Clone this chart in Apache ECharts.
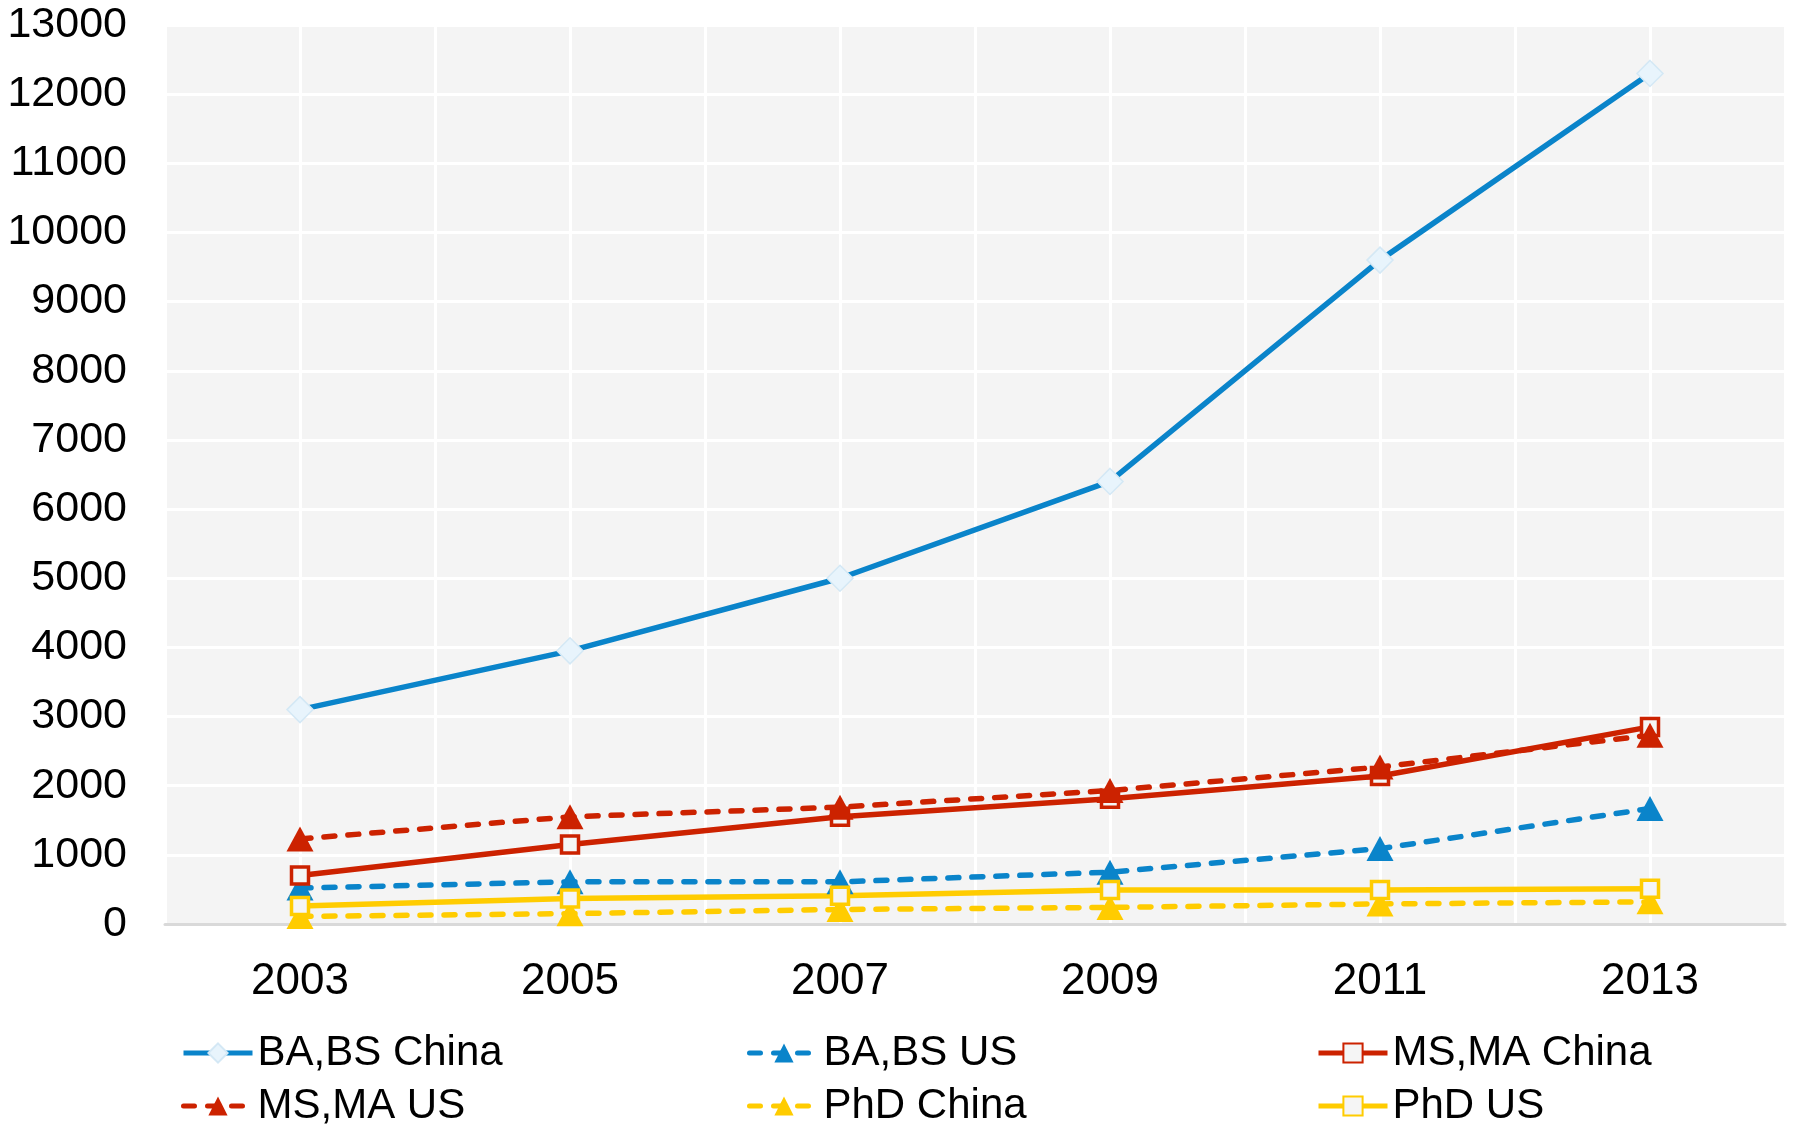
<!DOCTYPE html>
<html>
<head>
<meta charset="utf-8">
<script src="https://cdn.jsdelivr.net/npm/echarts@6/dist/echarts.min.js"></script>
<style>html,body{margin:0;padding:0;background:#fff}#c{width:1794px;height:1132px}</style>
</head>
<body>
<div id="c"></div>
<script>
var years = [2003, 2005, 2007, 2009, 2011, 2013];
var baChina = [3100, 3950, 5000, 6400, 9600, 12300];
var baUS = [520, 610, 610, 750, 1090, 1670];
var msChina = [700, 1150, 1550, 1810, 2140, 2850];
var msUS = [1230, 1550, 1690, 1930, 2270, 2730];
var phdChina = [110, 150, 210, 240, 290, 320];
var phdUS = [260, 370, 410, 490, 490, 510];

var BLUE = '#0A84CA', RED = '#CC2200', YEL = '#FFCC00';
var FONT = "'Liberation Sans', Arial, sans-serif";
function pairs(v){ return years.map(function(y,i){ return [y, v[i]]; }); }
var dash = [11, 13];

var chart = echarts.init(document.getElementById('c'));
function legend(left, names){
  return {
    orient: 'vertical', top: 1029, left: left, padding: 0, data: names,
    itemWidth: 69, itemHeight: 24, itemGap: 5,
    lineStyle: { width: 5 },
    textStyle: { fontSize: 42, fontFamily: FONT, color: '#000', lineHeight: 48 }
  };
}
chart.setOption({
  animation: false,
  grid: { left: 165, right: 9, top: 25, bottom: 208, show: true, backgroundColor: '#f4f4f4', borderWidth: 0 },
  legend: [
    legend(181, ['BA,BS China', 'MS,MA US']),
    legend(747, ['BA,BS US', 'PhD China']),
    legend(1316, ['MS,MA China', 'PhD US'])
  ],
  xAxis: {
    type: 'value', min: 2002, max: 2014, interval: 1,
    axisLine: { show: true, lineStyle: { color: '#d9d9d9', width: 3 } },
    axisTick: { show: false },
    splitLine: { show: true, lineStyle: { color: '#ffffff', width: 3 } },
    axisLabel: { fontSize: 44, fontFamily: FONT, color: '#000', margin: 36,
      formatter: function(v){ return years.indexOf(v) >= 0 ? String(v) : ''; } }
  },
  yAxis: {
    type: 'value', min: 0, max: 13000, interval: 1000,
    axisLine: { show: false }, axisTick: { show: false },
    splitLine: { show: true, lineStyle: { color: '#ffffff', width: 3 } },
    axisLabel: { fontSize: 43, fontFamily: FONT, color: '#000', margin: 38,
      formatter: function(v){ return String(v); } }
  },
  series: [
    { name: 'BA,BS China', type: 'line', data: pairs(baChina), symbol: 'diamond', symbolSize: 26,
      lineStyle: { color: BLUE, width: 5.5 },
      itemStyle: { color: '#e8f4fc', borderColor: '#d4e8f5', borderWidth: 1.5 } },
    { name: 'BA,BS US', type: 'line', data: pairs(baUS), symbol: 'triangle', symbolSize: [27, 25],
      lineStyle: { color: BLUE, width: 5.5, type: dash, cap: 'round' },
      itemStyle: { color: BLUE } },
    { name: 'MS,MA China', type: 'line', data: pairs(msChina), symbol: 'rect', symbolSize: 17,
      lineStyle: { color: RED, width: 5.5 },
      itemStyle: { color: '#f5f5f5', borderColor: RED, borderWidth: 3.5 } },
    { name: 'MS,MA US', type: 'line', data: pairs(msUS), symbol: 'triangle', symbolSize: [27, 25],
      lineStyle: { color: RED, width: 5.5, type: dash, cap: 'round' },
      itemStyle: { color: RED } },
    { name: 'PhD China', type: 'line', data: pairs(phdChina), symbol: 'triangle', symbolSize: [27, 25],
      lineStyle: { color: YEL, width: 5.5, type: dash, cap: 'round' },
      itemStyle: { color: YEL } },
    { name: 'PhD US', type: 'line', data: pairs(phdUS), symbol: 'rect', symbolSize: 17,
      lineStyle: { color: YEL, width: 5.5 },
      itemStyle: { color: '#f5f5f5', borderColor: YEL, borderWidth: 3.5 } }
  ]
});
</script>
</body>
</html>
